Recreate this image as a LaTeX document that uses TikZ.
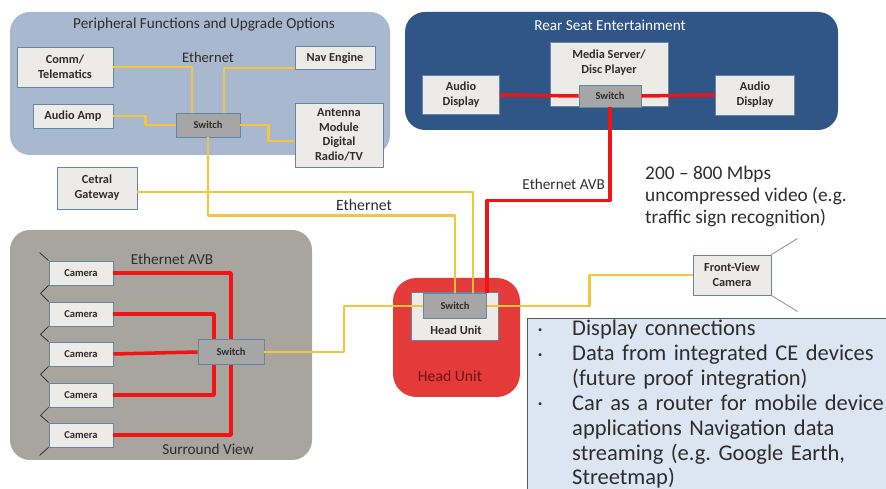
\documentclass[tikz,border=0pt]{standalone}
\usepackage{fontspec}
\setmainfont{Carlito}
\definecolor{periph}{RGB}{168,185,207}
\definecolor{rear}{RGB}{48,86,136}
\definecolor{surr}{RGB}{168,164,158}
\definecolor{hured}{RGB}{228,58,58}
\definecolor{boxfill}{RGB}{237,235,231}
\definecolor{boxline}{RGB}{100,134,164}
\definecolor{swfill}{RGB}{166,166,166}
\definecolor{ethyellow}{RGB}{247,196,60}
\definecolor{avbred}{RGB}{240,20,20}
\definecolor{notefill}{RGB}{220,230,242}
\definecolor{txt}{RGB}{45,45,45}
\begin{document}
\begin{tikzpicture}[x=0.03cm,y=-0.03cm,line join=round,
	box/.style={draw=boxline,fill=boxfill,line width=0.8pt,inner sep=1pt,align=center,text=txt,font=\bfseries\fontsize{10.5}{12.6}\selectfont},
	sw/.style={box,fill=swfill,font=\bfseries\fontsize{9}{10}\selectfont},
	cam/.style={box,font=\bfseries\fontsize{9}{10}\selectfont,minimum width=1.92cm,minimum height=0.72cm},
	panel/.style={rounded corners=0.6cm},
	title/.style={text=txt,font=\fontsize{13}{15}\selectfont},
	eth/.style={ethyellow,line width=2.5pt},
	avb/.style={avbred,line width=3pt}]
	\useasboundingbox (0,0) rectangle (886,489);
	% panels
	\fill[panel,periph] (10,12) rectangle (390,155);
	\fill[panel,rear] (405,12) rectangle (838,130);
	\fill[panel,surr] (10,230) rectangle (312,460);
	\fill[rounded corners=0.7cm,hured] (393,278) rectangle (520,397);
	\node[title] (ptitle) at (204,25) {Peripheral Functions and Upgrade Options};
	\node[title,text=white] (rtitle) at (610,25) {Rear Seat Entertainment};
	\node[title,font=\fontsize{12.5}{15}\selectfont] (pnet) at (208,57) {Ethernet};
	\node[title] (snet) at (172,259) {Ethernet AVB};
	\node[title] (stitle) at (208,449) {Surround View};
	\node[title,text={rgb,255:red,110;green,20;blue,20},font=\fontsize{13.4}{15}\selectfont] (hutitle) at (450,376) {Head Unit};
	
	% peripheral functions
	\node[box,minimum width=2.88cm,minimum height=1.2cm] (comm) at (65,67) {Comm/\\Telematics};
	\node[box,minimum width=2.4cm,minimum height=0.69cm] (nav) at (335,58) {Nav Engine};
	\node[box,minimum width=2.4cm,minimum height=0.72cm] (aamp) at (73,116) {Audio Amp};
	\node[box,minimum width=2.64cm,minimum height=1.92cm,font=\bfseries\fontsize{10.5}{12.4}\selectfont] (ant) at (339,135) {Antenna\\Module\\Digital\\Radio/TV};
	\node[sw,minimum width=1.92cm,minimum height=0.72cm] (swp) at (208,125) {Switch};
	\node[box,minimum width=2.4cm,minimum height=1.26cm] (gw) at (97,188) {Cetral\\Gateway};
	
	% rear seat
	\node[box,minimum width=3.54cm,minimum height=1.92cm] (media) at (609,74) {};
	\node[text=txt,font=\bfseries\fontsize{10.5}{12.6}\selectfont,align=center] (mtext) at (609,63) {Media Server/\\Disc Player};
	\node[sw,minimum width=1.86cm,minimum height=0.66cm] (swr) at (610,96) {Switch};
	\node[box,minimum width=2.31cm,minimum height=1.17cm] (adl) at (461,95) {Audio\\Display};
	\node[box,minimum width=2.37cm,minimum height=1.2cm] (adr) at (755,95) {Audio\\Display};
	
	% head unit
	\node[box,minimum width=2.61cm,minimum height=1.44cm] (hubox) at (455,316) {};
	\node[text=txt,font=\bfseries\fontsize{10.5}{12}\selectfont] (hulabel) at (456,330) {Head Unit};
	\node[sw,minimum width=1.89cm,minimum height=0.75cm] (swh) at (455,306) {Switch};
	
	% front view
	\node[box,minimum width=2.34cm,minimum height=1.2cm] (fvc) at (732,275) {Front-View\\Camera};
	\draw[gray,line width=0.6pt] (fvc.north east) -- ++(26,-16) (fvc.south east) -- ++(26,16);
	\node[text=txt,align=left,anchor=north west,inner sep=0,font=\fontsize{16.5}{18.6}\selectfont] (rate) at (645,166) {200 -- 800 Mbps\\uncompressed video (e.g.\\traffic sign recognition)};
	
	% surround view
	\foreach \i/\y in {1/273,2/314,3/354,4/395,5/435}
		\node[cam] (cam\i) at (81,\y) {Camera};
	\node[sw,minimum width=1.98cm,minimum height=0.75cm] (sws) at (231,352) {Switch};
	\draw[gray!30!black,line width=0.6pt] (cam1.north west) -- ++(-9,-8);
	\foreach \i/\j in {1/2,2/3,3/4,4/5}
		\draw[gray!30!black,line width=0.6pt] (cam\i.south west) -- ++(-8,8) -- (cam\j.north west);
	\draw[gray!30!black,line width=0.6pt] (cam5.south west) -- ++(-9,8);
	
	% connections
	\draw[eth] (comm.east) -| ([xshift=-0.48cm]swp.north);
	\draw[eth] ([yshift=-0.3cm]nav.west) -| ([xshift=0.48cm]swp.north);
	\draw[eth] (aamp.east) -- ++(32,0) |- (swp.west);
	\draw[eth] (swp.east) -- ++(28,0) |- ([yshift=-0.18cm]ant.west);
	\draw[eth] ([yshift=-0.12cm]gw.east) -| ([xshift=0.54cm]swh.north);
	\draw[eth] (swp.south) -- ++(0,78) -| (swh.north);
	\draw[eth] (fvc.west) -- ++(-103,0) |- (swh.east);
	\draw[eth] (swh.west) -- ++(-79,0) |- (sws.east);
	\node[title,font=\fontsize{13.4}{15}\selectfont] (hnet) at (364,205) {Ethernet};
	
	\draw[avb] (adl.east) -- (swr.west);
	\draw[avb] (swr.east) -- (adr.west);
	\draw[avb] (swr.south) -- ++(0,93) -| ([xshift=0.96cm]swh.north);
	\node[title,anchor=east] (rnet) at (609,184) {Ethernet AVB};
	\draw[avb] (cam1.east) -| (sws.north);
	\draw[avb] (cam5.east) -| (sws.south);
	\draw[avb] (cam2.east) -| ([xshift=-0.51cm]sws.north);
	\draw[avb] (cam4.east) -| ([xshift=-0.51cm]sws.south);
	\draw[avb] (cam3.east) -- (sws.west);
	
	% notes
	\draw[fill=notefill,draw=gray!70!black,line width=0.8pt] (527,318) rectangle (895,495);
	\node[anchor=north west,inner sep=0,text width=10.5cm,text=txt,font=\fontsize{19.2}{21.2}\selectfont] (notes) at (538,320) {%
		\hangindent=1.02cm\hangafter=1\makebox[1.02cm][l]{\raisebox{3pt}{\scriptsize\textbullet}}Display connections\par
		\hangindent=1.02cm\hangafter=1\makebox[1.02cm][l]{\raisebox{3pt}{\scriptsize\textbullet}}Data from integrated CE devices\newline(future proof integration)\par
		\hangindent=1.02cm\hangafter=1\makebox[1.02cm][l]{\raisebox{3pt}{\scriptsize\textbullet}}Car as a router for mobile device\newline applications Navigation data\newline streaming (e.g.\ Google Earth,\newline Streetmap)\par};
\end{tikzpicture}
\end{document}
